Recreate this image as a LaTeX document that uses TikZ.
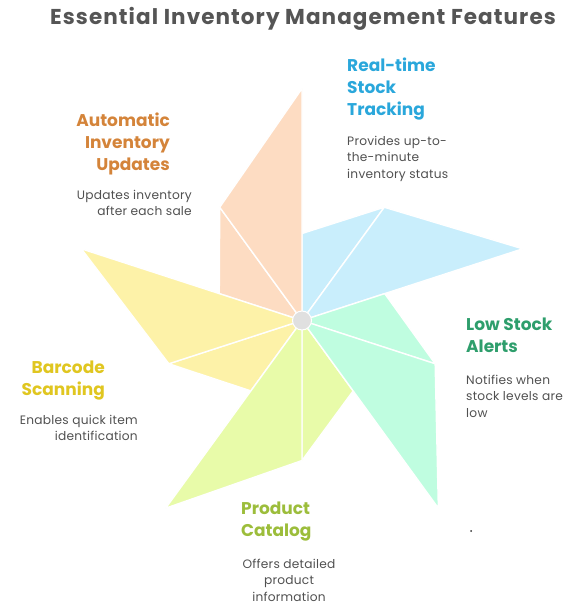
\documentclass[tikz,border=0pt]{standalone}
\usepackage{fontspec}
\setmainfont{Poppins}
\usetikzlibrary{positioning}

\definecolor{peach}{HTML}{FDDCC2}
\definecolor{sky}{HTML}{C9EEFC}
\definecolor{mint}{HTML}{BFFDE0}
\definecolor{lime}{HTML}{E8FBA9}
\definecolor{lemon}{HTML}{FDF2A8}
\definecolor{hubgray}{HTML}{E0E0E0}
\definecolor{titlegray}{HTML}{555555}
\definecolor{descgray}{HTML}{505050}
\definecolor{skytext}{HTML}{2AA7DB}
\definecolor{peachtext}{HTML}{D4843A}
\definecolor{minttext}{HTML}{2E9E6C}
\definecolor{limetext}{HTML}{9CBD3B}
\definecolor{lemontext}{HTML}{E0C620}

\tikzset{
	every node/.style={
		inner sep=0pt
	},
	blade/.style={
		draw=white,
		line width=1.4pt,
		line join=round
	},
	hub/.style={
		circle,
		fill=hubgray,
		draw=white,
		line width=1pt,
		minimum size=19pt
	},
	title/.style={
		font=\fontsize{21.5}{24}\selectfont\bfseries\addfontfeature{LetterSpace=5},
		text=titlegray
	},
	heading/.style={
		font=\fontsize{17}{22}\selectfont\bfseries
	},
	desc/.style={
		font=\fontsize{12.2}{16.3}\selectfont\addfontfeature{LetterSpace=2},
		text=descgray
	}
}

% one blade: two triangles between the hub and the tip
\newcommand{\blade}[2]{%
	\filldraw[blade, fill=#2] (0,0) -- (#1:87pt) -- (#1-36:140pt) -- cycle;
	\filldraw[blade, fill=#2] (0,0) -- (#1-36:140pt) -- (#1-72:232pt) -- cycle;
}

\begin{document}
\begin{tikzpicture}[x=1pt,y=-1pt]
	\useasboundingbox (0,0) rectangle (579,607);

	\node[title] (title) at (303,19) {Essential Inventory Management Features};

	\begin{scope}[shift={(302,320.5)}]
		\blade{90}{sky}
		\blade{162}{peach}
		\blade{234}{lemon}
		\blade{306}{lime}
		\blade{18}{mint}
		\node[hub] (hub) at (0,0) {};
	\end{scope}

	\node[heading, text=skytext, align=left, anchor=north west] (rt) at (347,58) {Real-time\\Stock\\Tracking};
	\node[desc, align=left, anchor=north west] (rtdesc) at (347,136) {Provides up-to-\\the-minute\\inventory status};

	\node[heading, text=peachtext, align=right, anchor=north east] (au) at (170,113) {Automatic\\Inventory\\Updates};
	\node[desc, align=right, anchor=north east] (audesc) at (192,190) {Updates inventory\\after each sale};

	\node[heading, text=minttext, align=left, anchor=north west] (ls) at (466,318) {Low Stock\\Alerts};
	\node[desc, align=left, anchor=north west] (lsdesc) at (466,375) {Notifies when\\stock levels are\\low};

	\node[heading, text=lemontext, align=right, anchor=north east] (bs) at (105,361) {Barcode\\Scanning};
	\node[desc, align=right, anchor=north east] (bsdesc) at (138,415) {Enables quick item\\identification};

	\node[heading, text=limetext, align=left, anchor=north west] (pc) at (241,502) {Product\\Catalog};
	\node[desc, align=center, anchor=north] (pcdesc) at (289,559) {Offers detailed\\product\\information};

	\fill[black!80] (471,531) circle (1pt);
\end{tikzpicture}
\end{document}
